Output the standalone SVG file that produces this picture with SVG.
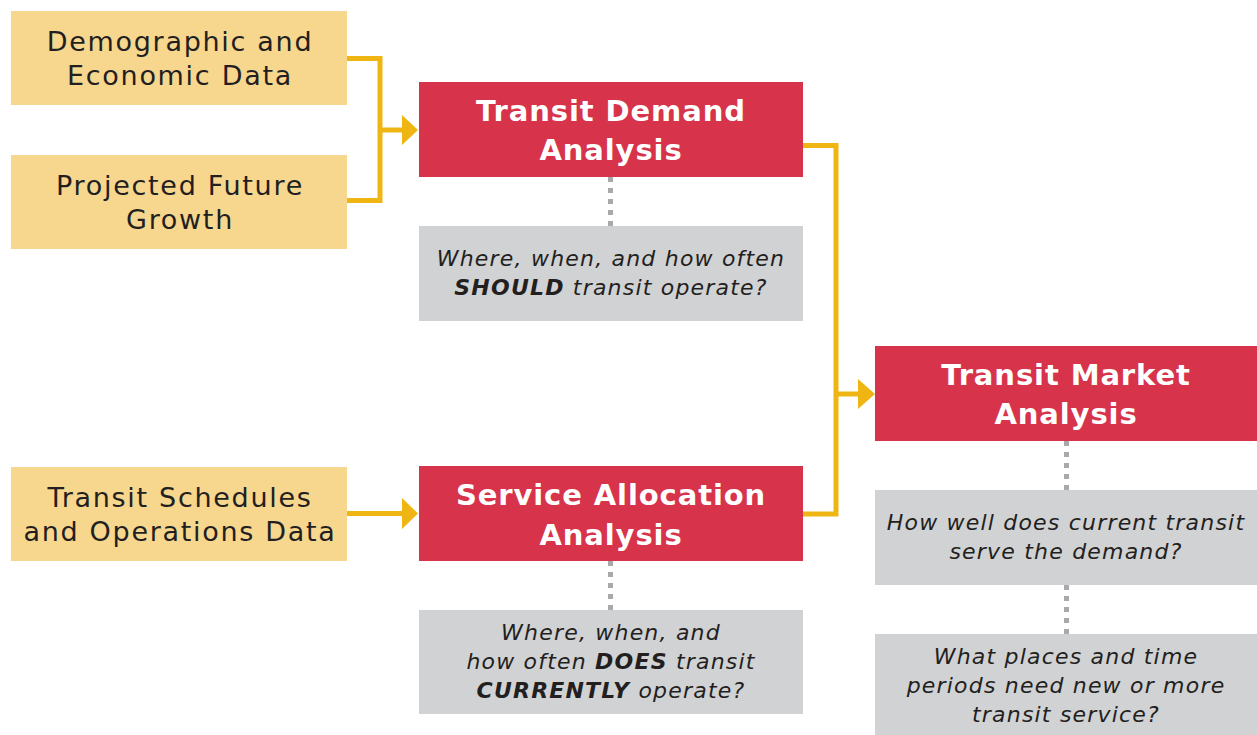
<svg xmlns="http://www.w3.org/2000/svg" width="1257" height="735" viewBox="0 0 1257 735">
  <style>
    .input { fill: #F7D68E; }
    .stage { fill: #D7334A; }
    .question { fill: #D1D2D4; }
    .in-text { font-family: "DejaVu Sans", "Liberation Sans", sans-serif; font-size: 27px; letter-spacing: 1.7px; fill: #231F20; text-anchor: middle; }
    .st-text { font-family: "DejaVu Sans", "Liberation Sans", sans-serif; font-size: 29px; font-weight: 700; letter-spacing: 0.9px; fill: #FFFFFF; text-anchor: middle; }
    .q-text { font-family: "DejaVu Sans", "Liberation Sans", sans-serif; font-size: 22px; font-style: italic; letter-spacing: 1.2px; fill: #231F20; text-anchor: middle; }
    .flow { fill: none; stroke: #EFB513; stroke-width: 5; }
    .dots { fill: none; stroke: #A7A9AC; stroke-width: 5; stroke-dasharray: 5 6; }
    .head { fill: #EFB513; }
  </style>

  <!-- connectors -->
  <g id="connectors">
    <polyline class="flow" points="347,58.5 380,58.5 380,200.5 347,200.5"/>
    <line class="flow" x1="380" y1="130" x2="404" y2="130"/>
    <polygon class="head" points="402,115 418,130 402,145"/>
    <line class="flow" x1="347" y1="513.5" x2="404" y2="513.5"/>
    <polygon class="head" points="402,498 418,513.5 402,529"/>
    <polyline class="flow" points="803,145.5 836,145.5 836,514 803,514"/>
    <line class="flow" x1="836" y1="394" x2="860" y2="394"/>
    <polygon class="head" points="858,379 875,394 858,409"/>
    <line class="dots" x1="610.5" y1="177" x2="610.5" y2="226"/>
    <line class="dots" x1="610.5" y1="561" x2="610.5" y2="610"/>
    <line class="dots" x1="1066.5" y1="441" x2="1066.5" y2="490"/>
    <line class="dots" x1="1066.5" y1="585" x2="1066.5" y2="634"/>
  </g>

  <g id="demographic">
    <rect class="input" x="11" y="11" width="336" height="94"/>
    <text class="in-text" x="180" y="51">Demographic and</text>
    <text class="in-text" x="180" y="85">Economic Data</text>
  </g>
  <g id="projected-growth">
    <rect class="input" x="11" y="155" width="336" height="94"/>
    <text class="in-text" x="180" y="195">Projected Future</text>
    <text class="in-text" x="180" y="229">Growth</text>
  </g>
  <g id="schedules">
    <rect class="input" x="11" y="467" width="336" height="94"/>
    <text class="in-text" x="180" y="507">Transit Schedules</text>
    <text class="in-text" x="180" y="541">and Operations Data</text>
  </g>

  <g id="demand-analysis">
    <rect class="stage" x="419" y="82" width="384" height="95"/>
    <text class="st-text" x="611" y="121">Transit Demand</text>
    <text class="st-text" x="611" y="160">Analysis</text>
  </g>
  <g id="demand-question">
    <rect class="question" x="419" y="226" width="384" height="95"/>
    <text class="q-text" x="611" y="266">Where, when, and how often</text>
    <text class="q-text" x="611" y="295"><tspan font-weight="700">SHOULD</tspan> transit operate?</text>
  </g>

  <g id="allocation-analysis">
    <rect class="stage" x="419" y="466" width="384" height="95"/>
    <text class="st-text" x="611" y="505">Service Allocation</text>
    <text class="st-text" x="611" y="545">Analysis</text>
  </g>
  <g id="allocation-question">
    <rect class="question" x="419" y="610" width="384" height="104"/>
    <text class="q-text" x="611" y="640">Where, when, and</text>
    <text class="q-text" x="611" y="669">how often <tspan font-weight="700">DOES</tspan> transit</text>
    <text class="q-text" x="611" y="698"><tspan font-weight="700">CURRENTLY</tspan> operate?</text>
  </g>

  <g id="market-analysis">
    <rect class="stage" x="875" y="346" width="382" height="95"/>
    <text class="st-text" x="1066" y="385">Transit Market</text>
    <text class="st-text" x="1066" y="424">Analysis</text>
  </g>
  <g id="market-question-1">
    <rect class="question" x="875" y="490" width="382" height="95"/>
    <text class="q-text" x="1066" y="530">How well does current transit</text>
    <text class="q-text" x="1066" y="559">serve the demand?</text>
  </g>
  <g id="market-question-2">
    <rect class="question" x="875" y="634" width="382" height="101"/>
    <text class="q-text" x="1066" y="664">What places and time</text>
    <text class="q-text" x="1066" y="693">periods need new or more</text>
    <text class="q-text" x="1066" y="722">transit service?</text>
  </g>
</svg>
